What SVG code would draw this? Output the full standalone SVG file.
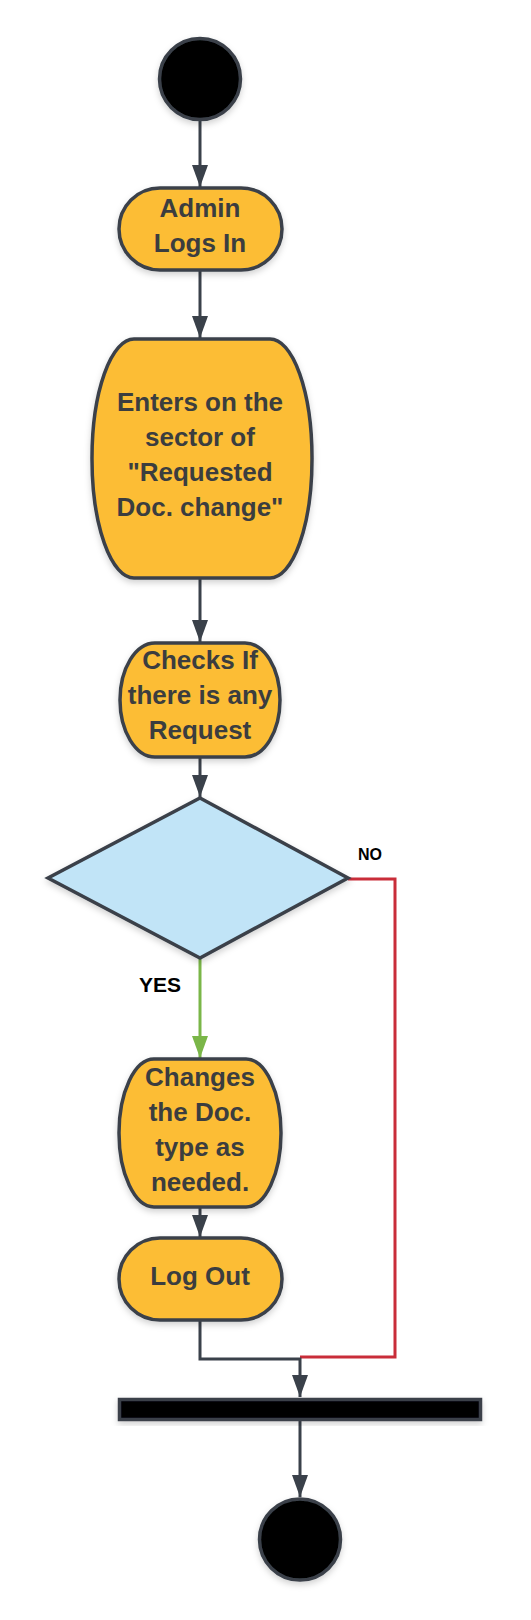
<svg xmlns="http://www.w3.org/2000/svg" width="531" height="1620" viewBox="0 0 531 1620">
  <style>
    .node { fill: #fcbd36; stroke: #3a414a; stroke-width: 3.5; filter: url(#shadow); }
    .term { fill: #000000; stroke: #3a414a; stroke-width: 3.5; filter: url(#shadow); }
    .dec { fill: #c1e4f7; stroke: #3a414a; stroke-width: 3.5; filter: url(#shadow); }
    .lbl { font-family: "Liberation Sans", Arial, sans-serif; font-weight: bold; font-size: 26px; fill: #3b3d3f; text-anchor: middle; }
    .edge-lbl { font-family: "Liberation Sans", Arial, sans-serif; font-weight: bold; fill: #000000; text-anchor: middle; }
    .conn { fill: none; stroke: #3a414a; stroke-width: 3; }
  </style>
  <defs>
    <filter id="shadow" x="-20%" y="-20%" width="140%" height="150%">
      <feDropShadow dx="0" dy="3" stdDeviation="3" flood-color="#000000" flood-opacity="0.18"/>
    </filter>
    <marker id="arrow" markerUnits="userSpaceOnUse" viewBox="0 0 22 16" refX="22" refY="8" markerWidth="22" markerHeight="16" orient="auto">
      <path d="M0,0 L22,8 L0,16 z" fill="#3a414a"/>
    </marker>
    <marker id="arrowGreen" markerUnits="userSpaceOnUse" viewBox="0 0 22 16" refX="22" refY="8" markerWidth="22" markerHeight="16" orient="auto">
      <path d="M0,0 L22,8 L0,16 z" fill="#7ab648"/>
    </marker>
  </defs>

  <g id="connectors">
    <path class="conn" d="M200,121 V187" marker-end="url(#arrow)"/>
    <path class="conn" d="M200,270 V338" marker-end="url(#arrow)"/>
    <path class="conn" d="M200,578 V642" marker-end="url(#arrow)"/>
    <path class="conn" d="M200,757 V797" marker-end="url(#arrow)"/>
    <path d="M200,958 V1058" fill="none" stroke="#7ab648" stroke-width="3" marker-end="url(#arrowGreen)"/>
    <path class="conn" d="M200,1207 V1237" marker-end="url(#arrow)"/>
    <path d="M348,879 H395 V1357 H300" fill="none" stroke="#c92d39" stroke-width="3"/>
    <path class="conn" d="M200,1320 V1359 H300 V1397" marker-end="url(#arrow)"/>
    <path class="conn" d="M300,1421 V1497" marker-end="url(#arrow)"/>
    <text class="edge-lbl" x="370" y="860" font-size="16">NO</text>
    <text class="edge-lbl" x="160" y="992" font-size="21">YES</text>
  </g>

  <g id="start">
    <circle class="term" cx="200" cy="79" r="40.5"/>
  </g>

  <g id="admin-logs-in">
    <rect class="node" x="119" y="188" width="163" height="82" rx="41" ry="41"/>
    <text class="lbl" x="200" y="217">Admin</text>
    <text class="lbl" x="200" y="252">Logs In</text>
  </g>

  <g id="enters-sector">
    <rect class="node" x="92" y="339" width="220" height="239" rx="42" ry="119"/>
    <text class="lbl" x="200" y="411">Enters on the</text>
    <text class="lbl" x="200" y="446">sector of</text>
    <text class="lbl" x="200" y="481">"Requested</text>
    <text class="lbl" x="200" y="516">Doc. change"</text>
  </g>

  <g id="checks-request">
    <rect class="node" x="120" y="643" width="160" height="114" rx="35" ry="57"/>
    <text class="lbl" x="200" y="669">Checks If</text>
    <text class="lbl" x="200" y="704">there is any</text>
    <text class="lbl" x="200" y="739">Request</text>
  </g>

  <g id="decision">
    <polygon class="dec" points="200,798 348,878 200,958 48,878"/>
  </g>

  <g id="changes-doc-type">
    <rect class="node" x="119" y="1059" width="162" height="148" rx="35" ry="74"/>
    <text class="lbl" x="200" y="1086">Changes</text>
    <text class="lbl" x="200" y="1121">the Doc.</text>
    <text class="lbl" x="200" y="1156">type as</text>
    <text class="lbl" x="200" y="1191">needed.</text>
  </g>

  <g id="log-out">
    <rect class="node" x="119" y="1238" width="163" height="82" rx="41" ry="41"/>
    <text class="lbl" x="200" y="1285">Log Out</text>
  </g>

  <g id="join-bar">
    <rect class="term" x="119.5" y="1399.5" width="361" height="20"/>
  </g>

  <g id="end">
    <circle class="term" cx="300" cy="1539.5" r="40.5"/>
  </g>
</svg>
